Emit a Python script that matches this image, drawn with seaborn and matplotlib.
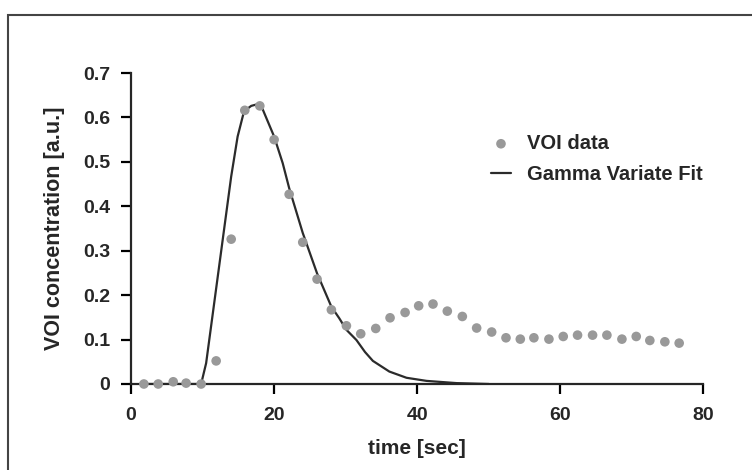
import matplotlib
matplotlib.use("Agg")
import matplotlib.pyplot as plt
import matplotlib.patches as mpatches
import seaborn as sns
import pandas as pd

# VOI data (time in sec, concentration in a.u.)
voi_time = [1.8, 3.8, 5.9, 7.7, 9.8, 11.9, 14.0, 15.9, 18.0, 20.0, 22.1, 24.0,
            26.0, 28.0, 30.1, 32.1, 34.2, 36.2, 38.3, 40.2, 42.2, 44.2, 46.3,
            48.3, 50.4, 52.4, 54.4, 56.3, 58.4, 60.4, 62.4, 64.5, 66.5, 68.6,
            70.6, 72.5, 74.6, 76.6]
voi_conc = [0.000, 0.000, 0.005, 0.002, 0.000, 0.052, 0.326, 0.616, 0.626,
            0.550, 0.427, 0.319, 0.236, 0.167, 0.131, 0.113, 0.125, 0.149,
            0.161, 0.176, 0.180, 0.164, 0.152, 0.126, 0.117, 0.104, 0.101,
            0.104, 0.101, 0.107, 0.110, 0.110, 0.110, 0.101, 0.107, 0.098,
            0.095, 0.092]

# Gamma variate fit curve
fit_time = [1.8, 9.8, 10.5, 13.0, 14.0, 14.9, 15.8, 16.8, 17.5, 18.2, 20.0,
            21.2, 22.1, 24.0, 26.0, 28.0, 29.1, 30.1, 31.5, 32.7, 33.8, 36.1,
            38.5, 41.3, 45.5, 50.0]
fit_conc = [0.0, 0.0, 0.047, 0.347, 0.467, 0.557, 0.614, 0.626, 0.629, 0.626,
            0.557, 0.497, 0.441, 0.340, 0.249, 0.174, 0.148, 0.122, 0.099,
            0.072, 0.052, 0.028, 0.014, 0.007, 0.002, 0.0]

x_ticks = [0, 20, 40, 60, 80]
y_ticks = [0, 0.1, 0.2, 0.3, 0.4, 0.5, 0.6, 0.7]
y_tick_labels = ["0", "0.1", "0.2", "0.3", "0.4", "0.5", "0.6", "0.7"]

sns.set_style("ticks")
plt.rcParams['font.family'] = ['Liberation Sans', 'DejaVu Sans']
plt.rcParams['font.weight'] = 'bold'

fig = plt.figure(figsize=(7.52, 4.70), dpi=100)
ax = fig.add_axes([131 / 752, 86 / 470, (703.5 - 131) / 752, (384 - 73) / 470])

df_voi = pd.DataFrame({"t": voi_time, "c": voi_conc})
df_fit = pd.DataFrame({"t": fit_time, "c": fit_conc})

sns.lineplot(data=df_fit, x="t", y="c", ax=ax, color="#2b2b2b", linewidth=1.6,
             sort=False, estimator=None, label="Gamma Variate Fit", zorder=2)
sns.scatterplot(data=df_voi, x="t", y="c", ax=ax, color="#999999", s=48,
                edgecolor="none", label="VOI data", zorder=3, clip_on=False)

ax.set_xlim(0, 80)
ax.set_ylim(0, 0.7)
ax.set_xticks(x_ticks)
ax.set_xticklabels([str(v) for v in x_ticks])
ax.set_yticks(y_ticks)
ax.set_yticklabels(y_tick_labels)
ax.tick_params(axis="both", labelsize=14, width=1.6, length=7, color="black",
               direction="out", pad=8)
ax.tick_params(axis="x", pad=9.5)
for lab in ax.get_xticklabels() + ax.get_yticklabels():
    lab.set_fontweight("bold")
ax.spines["top"].set_visible(False)
ax.spines["right"].set_visible(False)
ax.spines["left"].set_linewidth(1.6)
ax.spines["bottom"].set_linewidth(1.6)
ax.set_xlabel("time [sec]", fontsize=15, fontweight="bold", labelpad=11)
ax.set_ylabel("VOI concentration [a.u.]", fontsize=15.5, fontweight="bold", labelpad=13)

handles, labels = ax.get_legend_handles_labels()
order = [labels.index("VOI data"), labels.index("Gamma Variate Fit")]
leg = ax.legend([handles[i] for i in order], [labels[i] for i in order],
                frameon=False, prop={"size": 14.5, "weight": "bold"},
                loc="upper left", bbox_to_anchor=(0.597, 0.862),
                handlelength=1.0, handletextpad=0.8, labelspacing=0.58,
                markerscale=1.0)

# outer frame
fig.patches.append(mpatches.Rectangle((8 / 752, -0.1), 1.2, 1 - 15 / 470 + 0.1,
                                      transform=fig.transFigure, fill=False,
                                      edgecolor="#444444", linewidth=1.5))

fig.savefig("out.png", dpi=100)
